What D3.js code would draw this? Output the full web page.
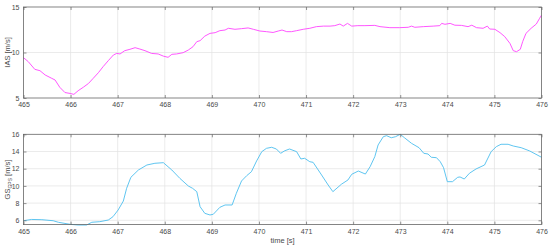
<!DOCTYPE html>
<html>
<head>
<meta charset="utf-8">
<script src="https://cdn.jsdelivr.net/npm/d3@7"></script>
<style>
  body { margin: 0; background: #fff; }
  svg { display: block; font-family: 'Liberation Sans', Arial, sans-serif; }
  .grid line { stroke: #e3e3e3; stroke-width: 0.7; }
  .frame { fill: none; stroke: #666; stroke-width: 0.8; }
  .tick-label { fill: #4a4a4a; font-size: 7px; }
  .axis-label { fill: #4a4a4a; font-size: 7.5px; }
</style>
</head>
<body>
<div id="chart"></div>
<script>
// IAS (top panel)
const iasTime = [465.0, 465.1, 465.24, 465.35, 465.46, 465.6, 465.67, 465.77, 465.88, 465.99,
  466.07, 466.16, 466.27, 466.38, 466.48, 466.59, 466.69, 466.8, 466.91, 466.98,
  467.05, 467.15, 467.26, 467.37, 467.47, 467.58, 467.72, 467.86, 467.97, 468.07,
  468.15, 468.25, 468.39, 468.5, 468.6, 468.68, 468.75, 468.85, 468.96, 469.07,
  469.17, 469.28, 469.35, 469.49, 469.63, 469.77, 469.88, 470.02, 470.16, 470.3,
  470.41, 470.49, 470.59, 470.69, 470.8, 470.94, 471.08, 471.22, 471.37, 471.51,
  471.61, 471.72, 471.79, 471.88, 471.97, 472.1, 472.25, 472.46, 472.57, 472.78,
  472.99, 473.17, 473.24, 473.31, 473.49, 473.7, 473.84, 473.88, 473.95, 474.06,
  474.16, 474.3, 474.44, 474.52, 474.62, 474.76, 474.85, 474.9, 475.01, 475.12,
  475.22, 475.33, 475.4, 475.47, 475.55, 475.6, 475.67, 475.78, 475.89, 475.96, 476.0];
const ias = [9.43, 9.0, 8.15, 8.0, 7.53, 7.16, 6.98, 6.18, 5.6, 5.5,
  5.4, 5.8, 6.18, 6.6, 7.16, 7.78, 8.44, 9.1, 9.73, 9.9,
  9.84, 10.2, 10.35, 10.53, 10.38, 10.2, 9.9, 9.84, 9.6, 9.47,
  9.8, 9.84, 9.98, 10.27, 10.64, 11.19, 11.3, 11.8, 12.1, 12.18,
  12.4, 12.47, 12.66, 12.55, 12.62, 12.7, 12.55, 12.36, 12.29, 12.2,
  12.36, 12.47, 12.29, 12.29, 12.4, 12.55, 12.66, 12.84, 12.9, 12.9,
  12.95, 13.13, 12.9, 13.2, 12.9, 12.95, 12.95, 12.98, 12.84, 12.73,
  12.73, 12.77, 12.9, 12.77, 12.84, 12.9, 12.95, 13.2, 13.1, 13.2,
  13.0, 12.98, 12.84, 13.0, 12.73, 12.66, 12.9, 12.58, 12.55, 12.18,
  11.74, 11.0, 10.2, 10.09, 10.35, 11.19, 12.1, 12.66, 13.13, 13.76, 14.1];

// GS GPS (bottom panel)
const gsTime = [465.0, 465.17, 465.39, 465.63, 465.74, 465.99, 466.16, 466.34, 466.45, 466.62,
  466.8, 466.9, 467.01, 467.12, 467.19, 467.28, 467.44, 467.62, 467.79, 467.97,
  468.15, 468.32, 468.5, 468.59, 468.68, 468.75, 468.85, 468.96, 469.03, 469.17,
  469.28, 469.43, 469.52, 469.63, 469.74, 469.84, 469.95, 470.06, 470.16, 470.27,
  470.37, 470.46, 470.55, 470.65, 470.8, 470.89, 470.97, 471.08, 471.15, 471.33,
  471.47, 471.57, 471.75, 471.89, 471.97, 472.11, 472.26, 472.36, 472.46, 472.53,
  472.64, 472.71, 472.81, 472.9, 473.0, 473.09, 473.24, 473.4, 473.5, 473.59,
  473.66, 473.77, 473.85, 473.92, 474.0, 474.11, 474.22, 474.27, 474.36, 474.47,
  474.61, 474.79, 474.93, 475.04, 475.14, 475.29, 475.4, 475.57, 475.75, 476.0];
const gs = [5.95, 6.1, 6.07, 5.95, 5.77, 5.53, 5.45, 5.45, 5.77, 5.84,
  6.03, 6.42, 7.2, 8.24, 9.72, 11.0, 11.85, 12.43, 12.63, 12.7,
  11.85, 10.88, 9.99, 9.72, 9.33, 7.58, 6.81, 6.62, 6.7, 7.51,
  7.78, 7.78, 9.14, 10.57, 11.19, 11.65, 12.9, 13.98, 14.37, 14.49,
  14.29, 13.79, 14.09, 14.29, 13.98, 13.13, 13.21, 12.81, 12.74, 11.27,
  10.1, 9.33, 10.19, 10.69, 11.35, 11.73, 11.38, 12.23, 13.4, 14.76,
  15.72, 15.84, 15.6, 15.72, 16.0, 15.6, 14.95, 14.44, 13.79, 13.71,
  13.33, 13.28, 12.81, 12.12, 10.49, 10.49, 11.0, 11.04, 10.8, 11.47,
  11.97, 12.43, 13.98, 14.56, 14.84, 14.84, 14.64, 14.44, 14.06, 13.33];

const xTicks = [465, 466, 467, 468, 469, 470, 471, 472, 473, 474, 475, 476];
const iasTicks = [5, 10, 15];
const gsTicks = [6, 8, 10, 12, 14, 16];

const W = 550, H = 247;
const left = 23.5, right = 541.5;

const svg = d3.select('#chart').append('svg')
  .attr('width', W)
  .attr('height', H);

const x = d3.scaleLinear().domain([465, 476]).range([left, right]);

function drawPanel(opts) {
  const y = d3.scaleLinear().domain(opts.domain).range([opts.bottom, opts.top]);
  const g = svg.append('g');

  // grid
  const grid = g.append('g').attr('class', 'grid');
  grid.selectAll('.gx').data(xTicks.slice(1, -1)).enter().append('line')
    .attr('x1', d => x(d)).attr('x2', d => x(d))
    .attr('y1', opts.top).attr('y2', opts.bottom);
  grid.selectAll('.gy').data(opts.ticks.filter(d => y(d) > opts.top + 1 && y(d) < opts.bottom - 1))
    .enter().append('line')
    .attr('x1', left).attr('x2', right)
    .attr('y1', d => y(d)).attr('y2', d => y(d));

  // data line
  const line = d3.line()
    .x((d, i) => x(opts.time[i]))
    .y(d => y(d));
  g.append('path')
    .datum(opts.values)
    .attr('fill', 'none')
    .attr('stroke', opts.color)
    .attr('stroke-width', 0.9)
    .attr('d', line);

  // axes, MATLAB style: ticks inward on every side
  const tl = 3;
  g.append('g').attr('transform', 'translate(0,' + opts.bottom + ')')
    .call(d3.axisBottom(x).tickValues(xTicks).tickSize(-tl).tickPadding(4).tickFormat(d3.format('d')));
  g.append('g').attr('transform', 'translate(0,' + opts.top + ')')
    .call(d3.axisTop(x).tickValues(xTicks).tickSize(-tl).tickFormat(''));
  g.append('g').attr('transform', 'translate(' + left + ',0)')
    .call(d3.axisLeft(y).tickValues(opts.ticks).tickSize(-tl).tickPadding(4).tickFormat(d3.format('d')));
  g.append('g').attr('transform', 'translate(' + right + ',0)')
    .call(d3.axisRight(y).tickValues(opts.ticks).tickSize(-tl).tickFormat(''));

  g.selectAll('.domain').remove();
  g.selectAll('.tick line').attr('stroke', '#666').attr('stroke-width', 0.7);
  g.selectAll('.tick text').attr('class', 'tick-label').attr('font-size', null).attr('font-family', null).attr('fill', null);

  g.append('rect').attr('class', 'frame')
    .attr('x', left).attr('y', opts.top)
    .attr('width', right - left).attr('height', opts.bottom - opts.top);

  return y;
}

drawPanel({time: iasTime, values: ias, domain: [5, 15], ticks: iasTicks,
  top: 7, bottom: 98, color: '#ff44ff'});
drawPanel({time: gsTime, values: gs, domain: [5.5, 16], ticks: gsTicks,
  top: 134.3, bottom: 224.6, color: '#4dbeee'});

// labels
svg.append('text').attr('class', 'axis-label')
  .attr('transform', 'translate(10,52.5) rotate(-90)')
  .attr('text-anchor', 'middle')
  .text('IAS [m/s]');

const gsLabel = svg.append('text').attr('class', 'axis-label')
  .attr('transform', 'translate(10,179.5) rotate(-90)')
  .attr('text-anchor', 'middle');
gsLabel.append('tspan').text('GS');
gsLabel.append('tspan').attr('font-size', '5px').attr('dy', 1.5).text('GPS');
gsLabel.append('tspan').attr('dy', -1.5).text(' [m/s]');

svg.append('text').attr('class', 'axis-label')
  .attr('x', (left + right) / 2).attr('y', 243)
  .attr('text-anchor', 'middle')
  .text('time [s]');
</script>
</body>
</html>
